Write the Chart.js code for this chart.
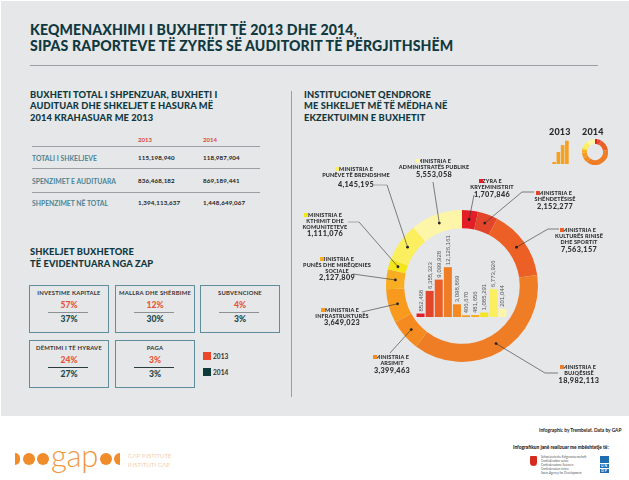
<!DOCTYPE html>
<html lang="sq">
<head>
  <meta charset="UTF-8">
  <title>Keqmenaxhimi i buxhetit</title>
  <script src="https://cdn.jsdelivr.net/npm/chart.js"></script>
  <style>
    html, body { margin: 0; padding: 0; background: #fff; }
    #page { position: relative; width: 629px; height: 480px; overflow: hidden; font-family: Lato, sans-serif; color: #10393f; }
    #page div, #page canvas { position: absolute; }
    #panel { left: 1px; top: 1px; width: 628px; height: 415px; background: #e6e7e9; }
    .title { left: 30px; font-size: 14.1px; font-weight: 900; letter-spacing: .12px; white-space: nowrap; line-height: 16px; }
    .heading { font-size: 9.3px; font-weight: 900; letter-spacing: .1px; white-space: nowrap; line-height: 11.3px; }
    .rule { background: #9a9fa3; height: 1px; }
    .th { font-size: 6px; font-weight: 700; color: #d8473a; }
    .rowname { left: 32px; font-size: 6.8px; font-weight: 700; color: #4d8494; white-space: nowrap; }
    .cell { font-size: 6.2px; font-weight: 700; color: #222; white-space: nowrap; letter-spacing: .15px; }
    .box { box-sizing: border-box; width: 80px; height: 48px; border: 1px solid #5f8d9b; }
    .box div { left: 0; width: 78px; text-align: center; white-space: nowrap; }
    .box .name { top: 3px; font-size: 5.9px; font-weight: 700; color: #333; letter-spacing: .2px; }
    .box .p13 { top: 14px; font-size: 8.6px; font-weight: 900; color: #e8563c; }
    .box .p14 { top: 28px; font-size: 8.6px; font-weight: 900; color: #1c4a4c; }
    .box .line { left: 18px; top: 26px; width: 40px; height: 1px; background: #8d9194; }
    .box.dark .line { background: #2c3b3d; }
    .key { width: 8px; height: 8px; }
    .keytext { font-size: 6.6px; font-weight: 700; color: #333; }
    .ml { transform: translateX(-50%); text-align: center; white-space: pre; font-size: 5.5px; line-height: 6px; font-weight: 900; color: #2f2f2f; letter-spacing: .12px; }
    .mv { transform: translateX(-50%); font-size: 7.3px; font-weight: 900; color: #2f2f2f; letter-spacing: .35px; white-space: nowrap; }
    .sq { width: 4px; height: 4px; }
    .yr { font-size: 9px; font-weight: 900; color: #2b2b2b; letter-spacing: .2px; }
    .dot { border-radius: 50%; background: #f08c2a; }
    .half { background: #f08c2a; }
    .small { color: #222; white-space: nowrap; }
    .undp { left: 600px; width: 9px; background: #1f6cb0; color: #fff; font-size: 3.4px; line-height: 4px; text-align: center; font-weight: 700; letter-spacing: 1px; }
  </style>
</head>
<body>
<div id="page">
  <div id="panel"></div>
  <div class="title" style="top:22px">KEQMENAXHIMI I BUXHETIT TË 2013 DHE 2014,</div>
  <div class="title" style="top:38px">SIPAS RAPORTEVE TË ZYRËS SË AUDITORIT TË PËRGJITHSHËM</div>
  <div class="rule" style="left:30px;top:65px;width:568px"></div>
  <div class="rule" style="left:291px;top:91px;width:1px;height:306px"></div>

  <div class="heading" style="left:30px;top:89px">BUXHETI TOTAL I SHPENZUAR, BUXHETI I<br>AUDITUAR DHE SHKELJET E HASURA MË<br>2014 KRAHASUAR ME 2013</div>
  <div class="heading" style="left:304px;top:89px">INSTITUCIONET QENDRORE<br>ME SHKELJET MË TË MËDHA NË<br>EKZEKTUIMIN E BUXHETIT</div>
  <div id="table"></div>

  <div class="heading" style="left:30px;top:246px;line-height:11.5px">SHKELJET BUXHETORE<br>TË EVIDENTUARA NGA ZAP</div>
  <div id="boxes"></div>
  <div class="key" style="left:203px;top:352px;background:#e8472b"></div>
  <div class="keytext" style="left:213px;top:352px">2013</div>
  <div class="key" style="left:203px;top:368px;background:#0f3a3c"></div>
  <div class="keytext" style="left:213px;top:368px">2014</div>

  <canvas id="donut" width="320" height="290" style="left:290px;top:120px"></canvas>
  <canvas id="bars" width="91" height="92" style="left:416px;top:225px"></canvas>
  <div id="labels"></div>

  <div class="yr" style="left:549px;top:126px">2013</div>
  <div class="yr" style="left:582px;top:126px">2014</div>
  <canvas id="miniBars" width="17" height="24" style="left:552px;top:140px"></canvas>
  <canvas id="miniDonut" width="26" height="26" style="left:582px;top:139px"></canvas>

  <!-- footer -->
  <div class="half" style="left:15px;top:453px;width:5px;height:12px;border-radius:0 6px 6px 0"></div>
  <div class="dot" style="left:23px;top:453px;width:12px;height:12px"></div>
  <div class="dot" style="left:37px;top:453px;width:12px;height:12px"></div>
  <div style="left:51px;top:438px;font-size:31px;font-weight:300;color:#f0963f;line-height:34px;letter-spacing:-.3px">gap</div>
  <div class="dot" style="left:100px;top:453px;width:12px;height:12px"></div>
  <div class="half" style="left:114px;top:453px;width:6px;height:12px;border-radius:6px 0 0 6px"></div>
  <div style="left:128px;top:451px;font-size:6.2px;line-height:9px;font-weight:300;color:#f0a060;white-space:nowrap">GAP INSTITUTE<br>INSTITUTI GAP</div>

  <div class="small" style="left:539px;top:427px;font-size:4.8px;font-weight:700">Infographic by Trembelat. Data by GAP</div>
  <div class="small" style="left:513px;top:444px;font-size:4.8px;font-weight:900">Infografikun janë realizuar me mbështetje të:</div>
  <div style="left:530px;top:456px;width:7px;height:10px;background:#d52b1e;border-radius:1px 1px 4px 4px"></div>
  <div class="small" style="left:541px;top:456px;font-size:3px;line-height:3.9px;color:#555">Schweizerische Eidgenossenschaft<br>Confédération suisse<br>Confederazione Svizzera<br>Confederaziun svizra<br>Swiss Agency for Development</div>
  <div class="undp" style="top:456px;height:7px"></div>
  <div class="undp" style="top:464px;height:4px">UN</div>
  <div class="undp" style="top:469px;height:4px">DP</div>
</div>

<script>
  // data
  const ministries = [
    'ZYRA E\nKRYEMINISTRIT', 'MINISTRIA E\nSHËNDETËSISË', 'MINISTRIA E\nKULTURËS RINISË\nDHE SPORTIT',
    'MINISTRIA E\nBUJQËSISË', 'MINISTRIA E\nARSIMIT', 'MINISTRIA E\nINFRASTRUKTURËS',
    'MINISTRIA E\nPUNËS DHE MIRËQENIES\nSOCIALE', 'MINISTRIA E\nKTHIMIT DHE\nKOMUNITETEVE',
    'MINISTRIA E\nPUNËVE TË BRENDSHME', 'MINISTRIA E\nADMINISTRATËS PUBLIKE'
  ];
  const values2014 = [1707846, 2152277, 7563157, 18982113, 3399463, 3649023, 2127809, 1111076, 4145195, 5553058];
  const values2013 = [852468, 6355323, 9099928, 12126161, 3098869, 406670, 481656, 1085291, 6773926, 2010440];
  const labels2013 = ['852,468', '6,355,323', '9,099,928', '12,126,161', '3,098,869', '406,670', '481,656', '1,085,291', '6,773,926', '201,044'];
  const sliceColors = ['#e31e26', '#e2452a', '#ec5f25', '#ee7d26', '#f58a20', '#f79a1e', '#f9ad22', '#f4e61b', '#fbee5f', '#fdf5a8'];
  const miniBarValues = [6, 35, 55, 68];

  const tableRows = ['TOTALI I SHKELJEVE', 'SPENZIMET E AUDITUARA', 'SHPENZIMET NË TOTAL'];
  const table2013 = ['115,198,940', '836,468,182', '1,394,113,637'];
  const table2014 = ['118,987,904', '869,189,441', '1,448,649,067'];

  const boxNames = ['INVESTIME KAPITALE', 'MALLRA DHE SHËRBIME', 'SUBVENCIONE', 'DËMTIMI I TË HYRAVE', 'PAGA'];
  const boxes2013 = ['57%', '12%', '4%', '24%', '3%'];
  const boxes2014 = ['37%', '30%', '3%', '27%', '3%'];

  // layout only: page positions of the callouts
  const boxX = [29, 115, 200, 29, 115];
  const boxY = [285, 285, 285, 340, 340];
  const labelX = [492, 555, 579, 579, 392, 342, 337, 325, 356, 434];
  const labelY = [178, 190, 227, 364, 354, 307, 256, 212, 166, 158];
  const valueY = [190, 202, 245, 376, 366, 318, 273, 229, 180, 170];
  const sqDx = [-13, -19, -19, -19, -19, -21, -17, -21, -21, -18];
  // elbows of the leader lines in canvas px, starting from the slice
  const leaderPaths = [
    [[184, 75]], [[232, 72], [244, 72]], [[258, 109], [269, 109]], [[255, 253], [268, 253]],
    [[100, 233]], [[72, 192]], [[63, 154]], [[69, 102], [58, 102]],
    [[97, 65], [84, 65]], [[143, 62]]
  ];
  const greyStubs = [7, 8];

  const page = document.getElementById('page');
  const addDiv = (cls, text, style) => {
    const el = document.createElement('div');
    el.className = cls;
    el.textContent = text;
    el.style.cssText = style;
    page.appendChild(el);
    return el;
  };

  addDiv('th', '2013', 'left:138px;top:136px');
  addDiv('th', '2014', 'left:203px;top:136px');
  const ruleY = [146, 168, 192];
  const rowY = [154, 177, 199];
  tableRows.forEach((name, i) => {
    addDiv('rule', '', `left:32px;top:${ruleY[i]}px;width:228px`);
    addDiv('rowname', name, `top:${rowY[i]}px`);
    addDiv('cell', table2013[i], `left:138px;top:${rowY[i]}px`);
    addDiv('cell', table2014[i], `left:203px;top:${rowY[i]}px`);
  });

  boxNames.forEach((name, i) => {
    const box = addDiv(i > 2 ? 'box dark' : 'box', '', `left:${boxX[i]}px;top:${boxY[i]}px`);
    const put = (cls, text) => {
      const el = document.createElement('div');
      el.className = cls;
      el.textContent = text;
      box.appendChild(el);
    };
    put('name', name);
    put('p13', boxes2013[i]);
    put('line', '');
    put('p14', boxes2014[i]);
  });

  ministries.forEach((name, i) => {
    addDiv('ml', name, `left:${labelX[i]}px;top:${labelY[i]}px`);
    addDiv('mv', values2014[i].toLocaleString('en-US'), `left:${labelX[i]}px;top:${valueY[i]}px`);
    addDiv('sq', '', `left:${labelX[i] + sqDx[i]}px;top:${labelY[i] + 1}px;background:${sliceColors[i]}`);
  });

  const leaderPlugin = {
    id: 'leaders',
    afterDraw(chart) {
      const c = chart.ctx;
      chart.getDatasetMeta(0).data.forEach((arc, i) => {
        const p = arc.getCenterPoint();
        const path = leaderPaths[i];
        const stub = greyStubs.includes(i) ? path[path.length - 1] : null;
        c.strokeStyle = '#333';
        c.lineWidth = 0.6;
        c.beginPath();
        c.moveTo(p.x, p.y);
        path.forEach(([x, y]) => {
          if (stub && x === stub[0] && y === stub[1]) return;
          c.lineTo(x, y);
        });
        c.stroke();
        if (stub) {
          c.strokeStyle = '#a5a8aa';
          c.lineWidth = 1;
          c.beginPath();
          c.moveTo(path[path.length - 2][0], path[path.length - 2][1]);
          c.lineTo(stub[0], stub[1]);
          c.stroke();
        }
        c.fillStyle = '#222';
        c.beginPath();
        c.arc(p.x, p.y, 1.4, 0, Math.PI * 2);
        c.fill();
      });
    }
  };

  new Chart(document.getElementById('donut'), {
    type: 'doughnut',
    data: {
      labels: ministries,
      datasets: [{ data: values2014, backgroundColor: sliceColors, borderWidth: 0 }]
    },
    options: {
      responsive: false,
      animation: false,
      cutout: '76%',
      layout: { padding: { left: 96, right: 72, top: 90, bottom: 48 } },
      plugins: { legend: { display: false }, tooltip: { enabled: false } }
    },
    plugins: [leaderPlugin]
  });

  const barLabelPlugin = {
    id: 'barLabels',
    afterDatasetsDraw(chart) {
      const c = chart.ctx;
      chart.getDatasetMeta(0).data.forEach((bar, i) => {
        c.save();
        c.translate(bar.x + 2, bar.y - 2);
        c.rotate(-Math.PI / 2);
        c.font = '6px "Liberation Sans Narrow", sans-serif';
        c.fillStyle = '#555';
        c.fillText(labels2013[i], 0, 0);
        c.restore();
      });
    }
  };

  new Chart(document.getElementById('bars'), {
    type: 'bar',
    data: {
      labels: ministries,
      datasets: [{ data: values2013, backgroundColor: sliceColors, categoryPercentage: 1, barPercentage: 0.88 }]
    },
    options: {
      responsive: false,
      animation: false,
      scales: {
        x: { display: false },
        y: { display: false, min: 0, max: 22400000 }
      },
      plugins: { legend: { display: false }, tooltip: { enabled: false } }
    },
    plugins: [barLabelPlugin]
  });

  new Chart(document.getElementById('miniBars'), {
    type: 'bar',
    data: {
      labels: miniBarValues,
      datasets: [{ data: miniBarValues, backgroundColor: '#f6a01e', categoryPercentage: 1, barPercentage: 0.85 }]
    },
    options: {
      responsive: false,
      animation: false,
      scales: { x: { display: false }, y: { display: false, min: 0, max: 70 } },
      plugins: { legend: { display: false }, tooltip: { enabled: false } }
    }
  });

  new Chart(document.getElementById('miniDonut'), {
    type: 'doughnut',
    data: {
      labels: ministries,
      datasets: [{ data: values2014, backgroundColor: sliceColors, borderWidth: 0 }]
    },
    options: {
      responsive: false,
      animation: false,
      cutout: '62%',
      plugins: { legend: { display: false }, tooltip: { enabled: false } }
    }
  });
</script>
</body>
</html>
